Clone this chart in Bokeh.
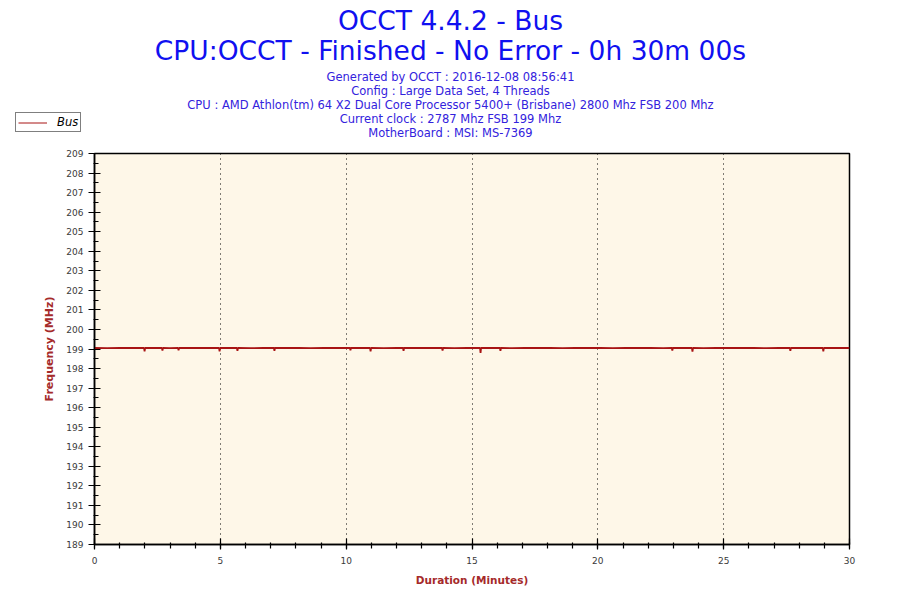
from bokeh.plotting import figure
from bokeh.models import Range1d, FixedTicker, Label, Legend
from bokeh.layouts import column, row
from bokeh.embed import file_html
from bokeh.resources import INLINE

# Bus frequency log
minutes = [0.00, 0.50, 1.00, 1.50, 1.97, 1.99, 2.01, 2.50, 2.68, 2.70, 2.72, 3.00,
           3.32, 3.34, 3.36, 3.80, 4.30, 4.95, 4.97, 4.99, 5.30, 5.66, 5.68, 5.70,
           6.20, 6.70, 7.13, 7.15, 7.17, 7.60, 8.10, 8.60, 9.10, 9.60, 10.15, 10.17,
           10.19, 10.50, 10.95, 10.97, 10.99, 11.50, 12.00, 12.26, 12.28, 12.30, 12.80, 13.30,
           13.81, 13.83, 13.85, 14.30, 14.80, 15.32, 15.34, 15.36, 15.70, 16.11, 16.13, 16.15,
           16.60, 17.10, 17.60, 18.10, 18.60, 19.10, 19.60, 20.10, 20.60, 21.10, 21.60, 22.10,
           22.60, 22.94, 22.96, 22.98, 23.30, 23.74, 23.76, 23.78, 24.20, 24.70, 25.20, 25.70,
           26.20, 26.70, 27.20, 27.63, 27.65, 27.67, 28.10, 28.50, 28.94, 28.96, 28.98, 29.40,
           30.00]
bus_mhz = [199.05, 199.04, 199.06, 199.05, 199.05, 198.88, 199.05, 199.06, 199.05, 198.92, 199.05, 199.04,
           199.05, 198.93, 199.05, 199.06, 199.05, 199.05, 198.88, 199.05, 199.06, 199.05, 198.90, 199.05,
           199.04, 199.06, 199.05, 198.90, 199.05, 199.05, 199.06, 199.04, 199.05, 199.06, 199.05, 198.93,
           199.05, 199.06, 199.05, 198.88, 199.05, 199.04, 199.06, 199.05, 198.90, 199.05, 199.06, 199.05,
           199.05, 198.92, 199.05, 199.04, 199.06, 199.05, 198.80, 199.05, 199.06, 199.05, 198.90, 199.05,
           199.04, 199.05, 199.06, 199.05, 199.04, 199.06, 199.05, 199.06, 199.04, 199.05, 199.06, 199.05,
           199.04, 199.05, 198.92, 199.05, 199.06, 199.05, 198.86, 199.05, 199.04, 199.06, 199.05, 199.05,
           199.06, 199.04, 199.05, 199.05, 198.90, 199.05, 199.06, 199.05, 199.05, 198.88, 199.05, 199.06,
           199.05]

title_lines = ["OCCT 4.4.2 - Bus",
               "CPU:OCCT - Finished - No Error - 0h 30m 00s"]
info_lines = ["Generated by OCCT : 2016-12-08 08:56:41",
              "Config : Large Data Set, 4 Threads",
              "CPU : AMD Athlon(tm) 64 X2 Dual Core Processor 5400+ (Brisbane) 2800 Mhz FSB 200 Mhz",
              "Current clock : 2787 Mhz FSB 199 Mhz",
              "MotherBoard : MSI: MS-7369"]

y_major = list(range(189, 210))
y_minor = [v + 0.5 for v in range(189, 209)]
x_major = list(range(0, 31, 5))
x_minor = list(range(0, 31))

FONT = "DejaVu Sans"
AXIS_RED = "#a52a2a"
LINE_RED = "#a81414"
HEAD_H = 140

# header strip: titles, info lines and the legend
head = figure(width=900, height=HEAD_H, output_backend="svg", toolbar_location=None,
              x_axis_type=None, y_axis_type=None, x_range=Range1d(0, 1), y_range=Range1d(0, 1),
              min_border=0)
head.outline_line_color = None
head.grid.visible = False
head.background_fill_color = "white"
head.border_fill_color = "white"

for i, t in enumerate(title_lines):
    head.add_layout(Label(x=450, y=HEAD_H - 20 - 30 * i, x_units="screen", y_units="screen", text=t,
                          text_align="center", text_baseline="middle", text_font=FONT,
                          text_font_size="26.5px", text_color="#1010f0"))
for i, t in enumerate(info_lines):
    head.add_layout(Label(x=450, y=HEAD_H - 76 - 14 * i, x_units="screen", y_units="screen", text=t,
                          text_align="center", text_baseline="middle", text_font=FONT,
                          text_font_size="11.5px", text_color="#3322dd"))

# same series, out of this strip's range: only its legend key shows
key = head.line(minutes, bus_mhz, line_color=LINE_RED, line_width=1)
legend = Legend(items=[("Bus", [key])], location=(15, HEAD_H - 132))
legend.border_line_color = "black"
legend.border_line_width = 1
legend.background_fill_color = "white"
legend.background_fill_alpha = 1
legend.padding = 2
legend.margin = 0
legend.glyph_width = 29
legend.glyph_height = 11
legend.label_height = 11
legend.label_standoff = 10
legend.label_text_font = FONT
legend.label_text_font_size = "11.5px"
legend.label_text_font_style = "italic"
legend.label_text_color = "black"
head.add_layout(legend)

# main chart
p = figure(width=900, height=600 - HEAD_H, output_backend="svg", toolbar_location=None,
           x_range=Range1d(0, 30), y_range=Range1d(189, 209),
           min_border_left=94, min_border_right=51, min_border_top=153 - HEAD_H, min_border_bottom=56)
p.background_fill_color = "#fef7e8"
p.border_fill_color = "white"
p.outline_line_color = "black"
p.outline_line_width = 1.5

p.line(minutes, bus_mhz, line_color=LINE_RED, line_width=1.8)

for ax in (p.xaxis, p.yaxis):
    ax.axis_line_color = "black"
    ax.axis_line_width = 1.5
    ax.major_tick_line_color = "black"
    ax.minor_tick_line_color = "black"
    ax.major_tick_line_width = 1.2
    ax.minor_tick_line_width = 1.2
    ax.major_label_text_font = FONT
    ax.major_label_text_font_size = "9px"
    ax.major_label_text_color = "#3a3a3a"
    ax.axis_label_text_font = FONT
    ax.axis_label_text_font_style = "bold"
    ax.axis_label_text_color = AXIS_RED

p.yaxis.ticker = FixedTicker(ticks=y_major, minor_ticks=y_minor)
p.yaxis.major_tick_in = 6
p.yaxis.major_tick_out = 6
p.yaxis.minor_tick_in = 4
p.yaxis.minor_tick_out = 1
p.yaxis.major_label_standoff = 5
p.yaxis.axis_label = "Frequency (MHz)"
p.yaxis.axis_label_text_font_size = "11px"
p.yaxis.axis_label_standoff = 7

p.xaxis.ticker = FixedTicker(ticks=x_major, minor_ticks=x_minor)
p.xaxis.major_tick_in = 6
p.xaxis.major_tick_out = 5
p.xaxis.minor_tick_in = 2
p.xaxis.minor_tick_out = 4
p.xaxis.major_label_standoff = 7
p.xaxis.axis_label = "Duration (Minutes)"
p.xaxis.axis_label_text_font_size = "10.5px"
p.xaxis.axis_label_standoff = 7

p.ygrid.visible = False
p.xgrid.ticker = FixedTicker(ticks=x_major[1:-1])
p.xgrid.grid_line_color = "black"
p.xgrid.grid_line_dash = "1 4"
p.xgrid.grid_line_width = 1

# the row wrapper keeps the header's frame from being aligned with the chart's frame
open("out.html", "w").write(file_html(column(row(head), p, spacing=0), INLINE))
